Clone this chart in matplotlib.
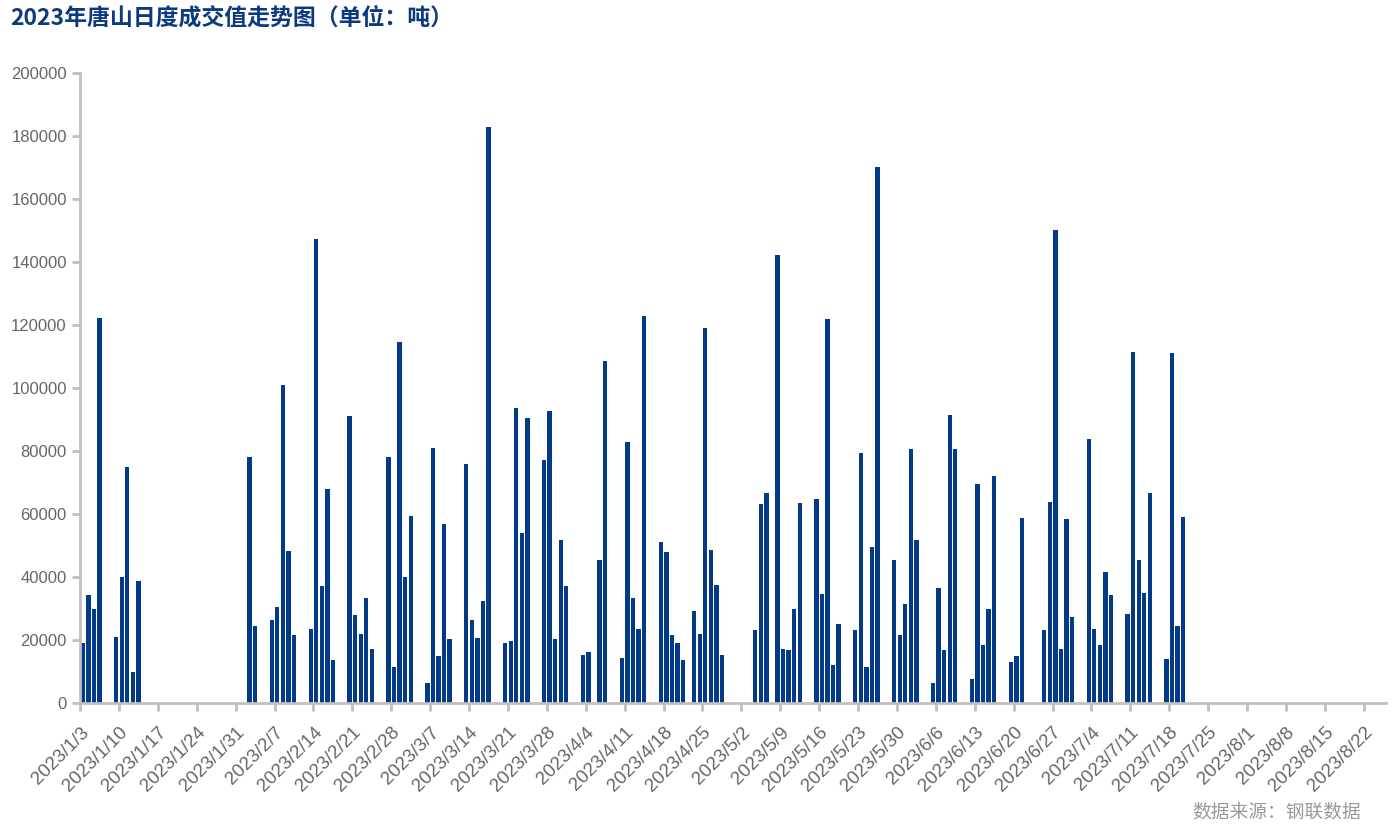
import pandas as pd
import matplotlib.pyplot as plt

plt.rcParams['font.family'] = ['Liberation Sans', 'Noto Sans CJK SC', 'DejaVu Sans']

dates = [
    '2023-01-03', '2023-01-04', '2023-01-05', '2023-01-06',
    '2023-01-09', '2023-01-10', '2023-01-11', '2023-01-12', '2023-01-13',
    '2023-02-02', '2023-02-03',
    '2023-02-06', '2023-02-07', '2023-02-08', '2023-02-09', '2023-02-10',
    '2023-02-13', '2023-02-14', '2023-02-15', '2023-02-16', '2023-02-17',
    '2023-02-20', '2023-02-21', '2023-02-22', '2023-02-23', '2023-02-24',
    '2023-02-27', '2023-02-28', '2023-03-01', '2023-03-02', '2023-03-03',
    '2023-03-06', '2023-03-07', '2023-03-08', '2023-03-09', '2023-03-10',
    '2023-03-13', '2023-03-14', '2023-03-15', '2023-03-16', '2023-03-17',
    '2023-03-20', '2023-03-21', '2023-03-22', '2023-03-23', '2023-03-24',
    '2023-03-27', '2023-03-28', '2023-03-29', '2023-03-30', '2023-03-31',
    '2023-04-03', '2023-04-04', '2023-04-06', '2023-04-07',
    '2023-04-10', '2023-04-11', '2023-04-12', '2023-04-13', '2023-04-14',
    '2023-04-17', '2023-04-18', '2023-04-19', '2023-04-20', '2023-04-21',
    '2023-04-23', '2023-04-24', '2023-04-25', '2023-04-26', '2023-04-27', '2023-04-28',
    '2023-05-04', '2023-05-05', '2023-05-06',
    '2023-05-08', '2023-05-09', '2023-05-10', '2023-05-11', '2023-05-12',
    '2023-05-15', '2023-05-16', '2023-05-17', '2023-05-18', '2023-05-19',
    '2023-05-22', '2023-05-23', '2023-05-24', '2023-05-25', '2023-05-26',
    '2023-05-29', '2023-05-30', '2023-05-31', '2023-06-01', '2023-06-02',
    '2023-06-05', '2023-06-06', '2023-06-07', '2023-06-08', '2023-06-09',
    '2023-06-12', '2023-06-13', '2023-06-14', '2023-06-15', '2023-06-16',
    '2023-06-19', '2023-06-20', '2023-06-21',
    '2023-06-25', '2023-06-26', '2023-06-27', '2023-06-28', '2023-06-29', '2023-06-30',
    '2023-07-03', '2023-07-04', '2023-07-05', '2023-07-06', '2023-07-07',
    '2023-07-10', '2023-07-11', '2023-07-12', '2023-07-13', '2023-07-14',
    '2023-07-17', '2023-07-18', '2023-07-19', '2023-07-20',
]

values = [
    19200, 34300, 29900, 122300,
    21100, 39900, 74900, 9800, 38700,
    78100, 24600,
    26500, 30400, 101000, 48100, 21600,
    23600, 147200, 37200, 67800, 13700,
    91000, 27900, 21900, 33200, 17300,
    78100, 11300, 114700, 39900, 59500,
    6500, 81000, 14800, 56800, 20300,
    75900, 26200, 20500, 32300, 182700,
    19100, 19600, 93600, 54100, 90600,
    77100, 92700, 20200, 51600, 37200,
    15200, 16100, 45300, 108600,
    14300, 82800, 33300, 23500, 123000,
    51000, 47900, 21700, 19000, 13800,
    29300, 22000, 118900, 48700, 37400, 15100,
    23100, 63200, 66600,
    142300, 17000, 16700, 29900, 63400,
    64700, 34700, 122000, 12200, 25100,
    23200, 79400, 11400, 49600, 170300,
    45300, 21700, 31500, 80500, 51700,
    6500, 36400, 16800, 91400, 80600,
    7500, 69600, 18300, 29900, 72000,
    13100, 15000, 58800,
    23200, 63700, 150000, 17100, 58300, 27400,
    83800, 23600, 18500, 41700, 34200,
    28100, 111500, 45300, 34900, 66800,
    13900, 111200, 24600, 59000,
]

y_ticks = [0, 20000, 40000, 60000, 80000, 100000, 120000, 140000, 160000, 180000, 200000]

x = pd.to_datetime(dates) + pd.Timedelta(hours=12)
tick_days = pd.date_range('2023-01-03', '2023-08-22', freq='7D')
tick_labels = [f'{d.year}/{d.month}/{d.day}' for d in tick_days]

fig = plt.figure(figsize=(13.92, 8.38), dpi=100)
ax = fig.add_axes([0.0575, 0.1611, 0.9382, 0.7518])

ax.bar(x, values, width=0.78, color='#023a87')

ax.set_xlim(pd.Timestamp('2023-01-03'), pd.Timestamp('2023-08-26'))
ax.set_ylim(0, 200000)
ax.set_yticks(y_ticks)
ax.set_yticklabels([str(v) for v in y_ticks])
ax.set_xticks(tick_days)
ax.set_xticklabels(tick_labels, rotation=45, ha='right', rotation_mode='anchor', fontsize=13.5)

for side in ['top', 'right']:
    ax.spines[side].set_visible(False)
for side in ['left', 'bottom']:
    ax.spines[side].set_color('#c0c0c0')
    ax.spines[side].set_linewidth(2)
ax.tick_params(axis='both', colors='#c0c0c0', width=2, length=6, labelcolor='#666666')
ax.tick_params(axis='y', labelsize=12)
ax.tick_params(axis='x', pad=9)

fig.text(0.007, 0.978, '2023年唐山日度成交值走势图（单位：吨）', fontsize=16.5, fontweight='bold',
         color='#0b3a80', va='center', ha='left', family=['Noto Sans CJK SC', 'DejaVu Sans'])
fig.text(0.978, 0.031, '数据来源：钢联数据', fontsize=13.5, color='#999999', ha='right', va='center',
         family=['Noto Sans CJK SC', 'DejaVu Sans'])

fig.savefig('out.png', dpi=100)
